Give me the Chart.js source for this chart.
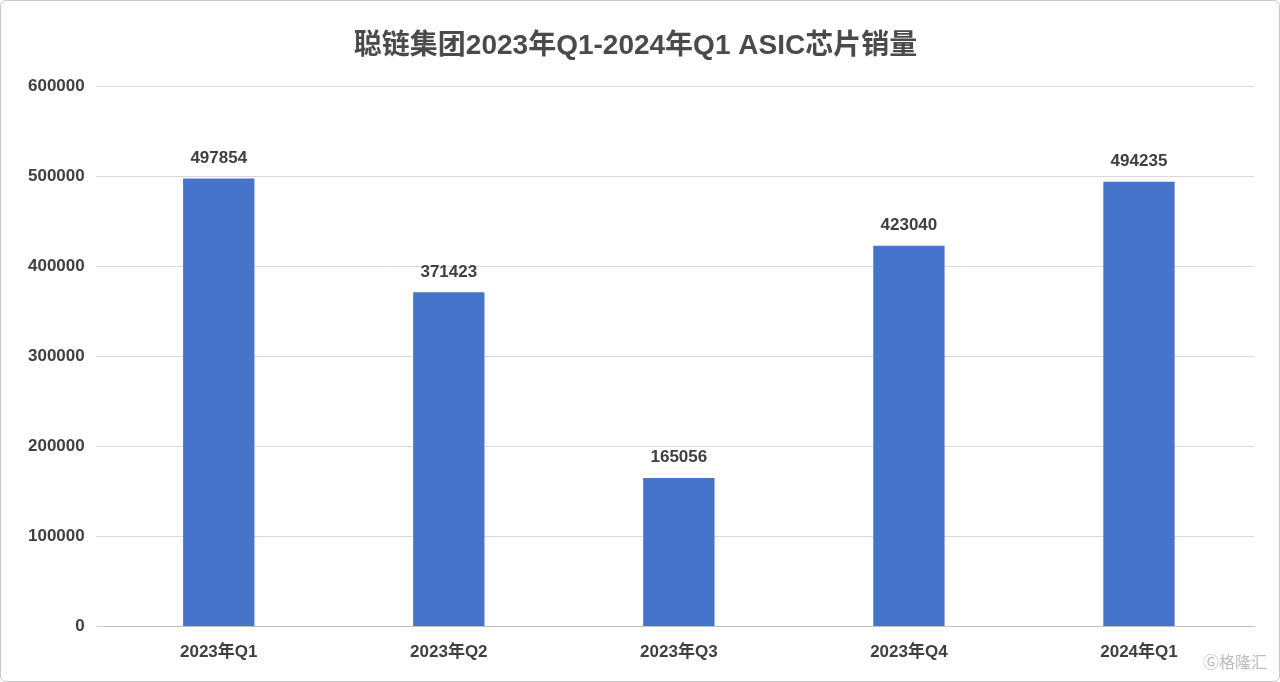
<!DOCTYPE html>
<html>
<head>
<meta charset="utf-8">
<script src="https://cdn.jsdelivr.net/npm/chart.js@4"></script>
<style>
  html, body { margin: 0; padding: 0; background: #fff; }
  #wrap { position: relative; width: 1278px; height: 680px; border: 1px solid #c8c8c8; border-radius: 6px; }
  #mark { position: absolute; right: 12px; bottom: 8px; font: 16px "Noto Sans CJK SC"; color: #bbb; }
</style>
</head>
<body>
<div id="wrap">
  <canvas id="myChart"></canvas>
  <div id="mark">Ⓖ格隆汇</div>
</div>
<script>
const categories = ['2023年Q1', '2023年Q2', '2023年Q3', '2023年Q4', '2024年Q1'];
const sales = [497854, 371423, 165056, 423040, 494235];

const valueLabels = {
    id: 'valueLabels',
    afterDatasetsDraw(chart) {
        const ctx = chart.ctx;
        ctx.save();
        ctx.font = 'bold 17px "Liberation Sans", Arial, sans-serif';
        ctx.fillStyle = '#404040';
        ctx.textAlign = 'center';
        ctx.textBaseline = 'bottom';
        chart.getDatasetMeta(0).data.forEach((bar, i) => {
            ctx.fillText(sales[i], bar.x, bar.y - 12);
        });
        ctx.restore();
    }
};

const ctx1 = document.getElementById('myChart');
ctx1.width = 1278;
ctx1.height = 680;

new Chart(ctx1, {
    type: 'bar',
    data: {
        labels: categories,
        datasets: [
            {
                label: '销量',
                data: sales,
                backgroundColor: '#4674CA',
                barPercentage: 0.31,
                categoryPercentage: 1
            }
        ]
    },
    options: {
        responsive: false,
        animation: false,
        layout: { padding: { left: 16, right: 25, top: 0, bottom: 10 } },
        plugins: {
            legend: { display: false },
            tooltip: { enabled: false },
            title: {
                display: true,
                text: '聪链集团2023年Q1-2024年Q1 ASIC芯片销量',
                color: '#4a4a4a',
                font: { size: 28, weight: 'bold', family: '"Liberation Sans", "Noto Sans CJK SC", sans-serif' },
                padding: { top: 28, bottom: 24 }
            }
        },
        scales: {
            x: {
                grid: { display: false },
                border: { color: '#bfbfbf' },
                ticks: { color: '#404040', font: { size: 17, weight: 'bold', family: '"Liberation Sans", "Noto Sans CJK SC", sans-serif' }, padding: 8 }
            },
            y: {
                min: 0,
                max: 600000,
                grid: { color: '#d9d9d9' },
                border: { display: false },
                ticks: { stepSize: 100000, color: '#404040', callback: v => String(v), font: { size: 17, weight: 'bold', family: '"Liberation Sans", sans-serif' }, padding: 11 }
            }
        }
    },
    plugins: [valueLabels]
});
</script>
</body>
</html>
